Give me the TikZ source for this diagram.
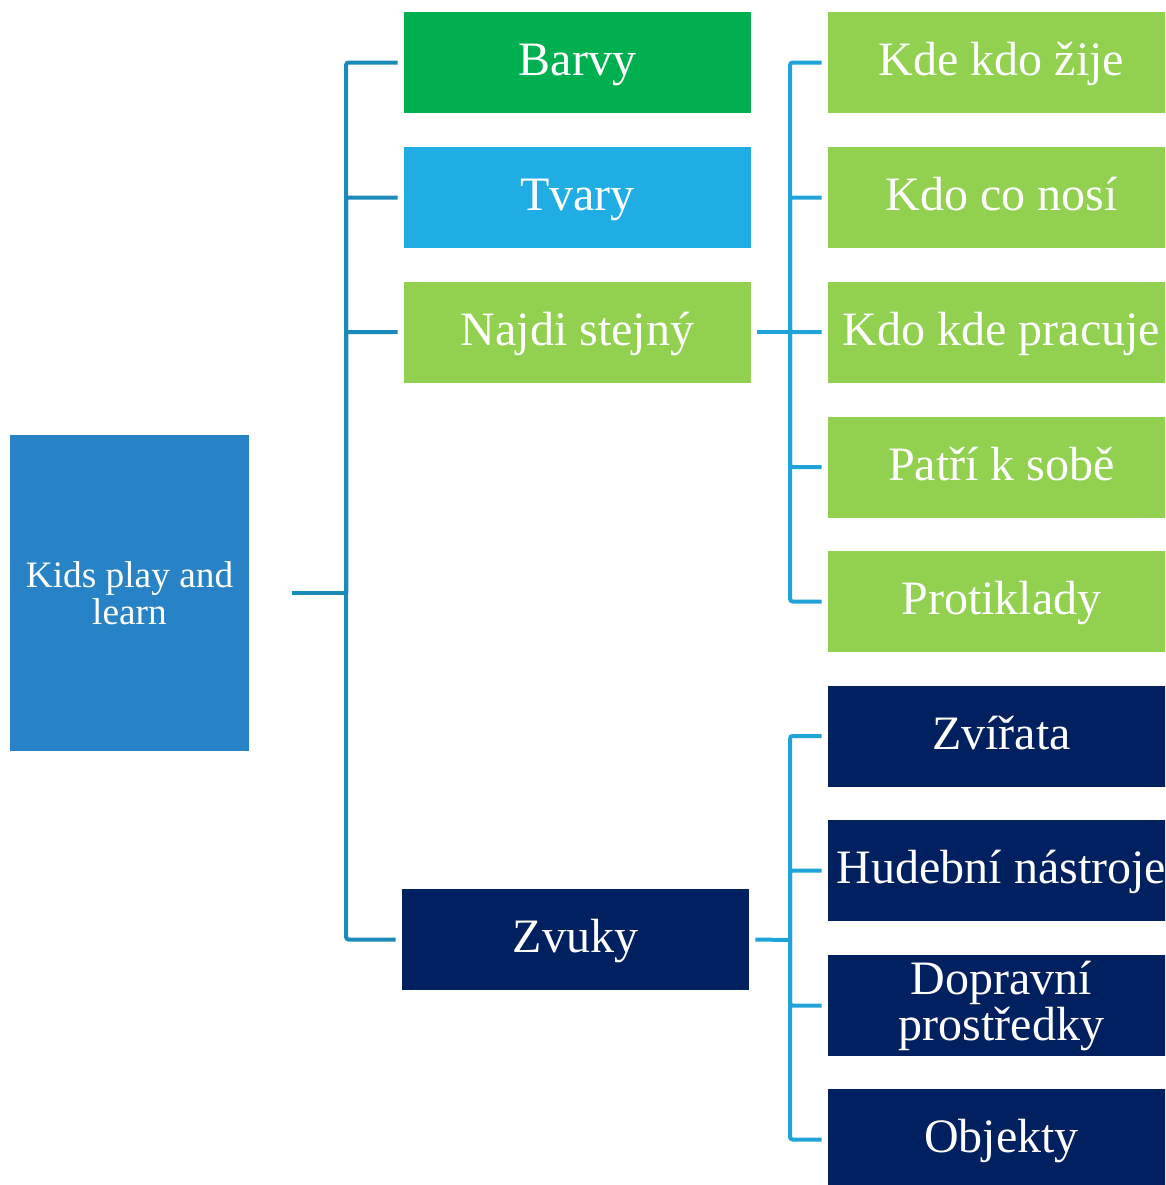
\documentclass[tikz,border=0pt]{standalone}
\usepackage{fontspec}
\setmainfont{Liberation Serif}
\definecolor{rootblue}{HTML}{2883C6}
\definecolor{bgreen}{HTML}{00B050}
\definecolor{tblue}{HTML}{1FADE4}
\definecolor{lgreen}{HTML}{92D050}
\definecolor{navy}{HTML}{002060}
\definecolor{connA}{HTML}{1A8AB8}
\definecolor{connB}{HTML}{1FA3D8}
\begin{document}
\begin{tikzpicture}[x=0.75pt,y=-0.75pt,
  box/.style={rectangle, inner sep=0pt, text=white, align=center, font=\fontsize{36}{34.5}\selectfont},
  oneline/.style={text height=28pt, text depth=8pt},
  lone/.style={box, minimum width=260.25pt, minimum height=75.75pt},
  ltwo/.style={box, minimum width=260.25pt, minimum height=75.75pt},
  connone/.style={draw=connA, line width=3pt, rounded corners=2pt},
  conntwo/.style={draw=connB, line width=3pt, rounded corners=2pt}]
\useasboundingbox (0,0) rectangle (1165,1185);
\begin{scope}
\clip (0,0) rectangle (1165,1185);
\node[box, fill=rootblue, minimum width=179.25pt, minimum height=237pt, font=\fontsize{28}{28}\selectfont] (root) at (129.5,593) {Kids play and\\learn};
\node[lone, oneline, fill=bgreen] (barvy) at (577.5,62.5) {Barvy};
\node[lone, oneline, fill=tblue] (tvary) at (577.5,197.5) {Tvary};
\node[lone, oneline, fill=lgreen] (najdi) at (577.5,332) {Najdi stejný};
\node[lone, oneline, fill=navy] (zvuky) at (575.5,939.5) {Zvuky};
\node[ltwo, oneline, fill=lgreen] (a1) at (1001.5,62.5) {Kde kdo žije};
\node[ltwo, oneline, fill=lgreen] (a2) at (1001.5,197.5) {Kdo co nosí};
\node[ltwo, oneline, fill=lgreen] (a3) at (1001.5,332) {Kdo kde pracuje};
\node[ltwo, oneline, fill=lgreen] (a4) at (1001.5,467) {Patří k sobě};
\node[ltwo, oneline, fill=lgreen] (a5) at (1001.5,601.5) {Protiklady};
\node[ltwo, oneline, fill=navy] (b1) at (1001.5,736) {Zvířata};
\node[ltwo, oneline, fill=navy] (b2) at (1001.5,870.5) {Hudební nástroje};
\node[ltwo, fill=navy] (b3) at (1001.5,1005.5) {Dopravní\\prostředky};
\node[ltwo, oneline, fill=navy] (b4) at (1001.5,1139.5) {Objekty};
\end{scope}
\coordinate (t1) at (346,593);
\coordinate (t2) at (790,332);
\coordinate (t3) at (790,940);
\draw[connone] ([xshift=32.25pt]root.east) -- (t1);
\foreach \n in {barvy,tvary,najdi,zvuky}
  \draw[connone] (t1) |- ([xshift=-4.5pt]\n.west);
\draw[conntwo] ([xshift=4.5pt]najdi.east) -- (t2);
\foreach \n in {a1,a2,a3,a4,a5}
  \draw[conntwo] (t2) |- ([xshift=-4.5pt]\n.west);
\draw[conntwo] ([xshift=4.5pt]zvuky.east) -- (t3);
\foreach \n in {b1,b2,b3,b4}
  \draw[conntwo] (t3) |- ([xshift=-4.5pt]\n.west);
\end{tikzpicture}
\end{document}
